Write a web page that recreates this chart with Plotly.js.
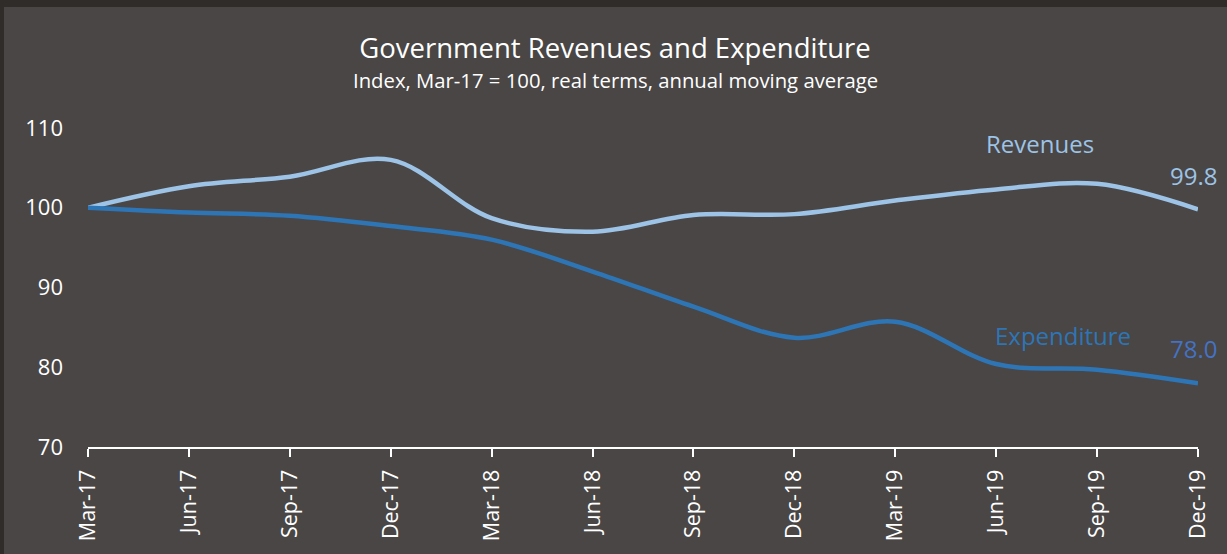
<!DOCTYPE html>
<html><head><meta charset="utf-8">
<script src="https://cdn.plot.ly/plotly-3.0.1.min.js"></script>
<style>html,body{margin:0;padding:0;background:#494645;}</style>
</head><body>
<div id="chart" style="width:1227px;height:554px;"></div>
<script>
const quarters = ["Mar-17","Jun-17","Sep-17","Dec-17","Mar-18","Jun-18","Sep-18","Dec-18","Mar-19","Jun-19","Sep-19","Dec-19"];
const revenues = [100, 102.7, 103.9, 106.0, 98.7, 97.0, 99.1, 99.2, 100.9, 102.3, 103.0, 99.8];
const expenditure = [100, 99.4, 99.0, 97.7, 96.0, 92.0, 87.6, 83.7, 85.7, 80.4, 79.7, 78.0];
const yTicks = [70, 80, 90, 100, 110];

const FONT = "Open Sans, Noto Sans, sans-serif";
const traces = [
  {x: quarters, y: revenues, type: "scatter", mode: "lines", name: "Revenues",
   line: {color: "#9dc3e6", width: 4.5, shape: "spline", smoothing: 1}},
  {x: quarters, y: expenditure, type: "scatter", mode: "lines", name: "Expenditure",
   line: {color: "#2e75b6", width: 4.5, shape: "spline", smoothing: 1}}
];
const last = quarters.length - 1;
const layout = {
  width: 1227, height: 554,
  paper_bgcolor: "#494645", plot_bgcolor: "rgba(0,0,0,0)",
  margin: {l: 88, r: 29, t: 128, b: 107},
  showlegend: false,
  font: {family: FONT, color: "#ffffff"},
  title: {text: "Government Revenues and Expenditure", font: {family: FONT, size: 27.5, color: "#ffffff"},
          x: 615/1227, xanchor: "center", y: 1 - 48/554, yanchor: "middle", xref: "container"},
  xaxis: {type: "category", range: [0, last], showgrid: false, zeroline: false,
          showline: true, linecolor: "#ffffff", linewidth: 2,
          ticks: "outside", ticklen: 8, tickwidth: 2, tickcolor: "#ffffff", ticklabelstandoff: 4,
          tickangle: -90, tickfont: {family: FONT, size: 21.5, color: "#ffffff"}},
  yaxis: {range: [70, 110], tickvals: yTicks, showgrid: false, zeroline: false, showline: false,
          ticks: "", ticklabelstandoff: 24, tickfont: {family: FONT, size: 22, color: "#ffffff"}},
  annotations: [
    {text: "Index, Mar-17 = 100, real terms, annual moving average", xref: "paper", yref: "paper",
     x: (615-88)/1110, y: 1 + (128-80)/319, xanchor: "center", yanchor: "middle", showarrow: false,
     font: {family: FONT, size: 20.3, color: "#ffffff"}},
    {text: "Revenues", xref: "x", yref: "y", x: 9.43, y: revenues[last] + 8.3, showarrow: false,
     xanchor: "center", yanchor: "middle", font: {family: FONT, size: 24, color: "#9dc3e6"}},
    {text: revenues[last].toFixed(1), xref: "x", yref: "y", x: 10.96, y: revenues[last] + 4.3, showarrow: false,
     xanchor: "center", yanchor: "middle", font: {family: FONT, size: 24, color: "#9dc3e6"}},
    {text: "Expenditure", xref: "x", yref: "y", x: 9.66, y: expenditure[last] + 6.0, showarrow: false,
     xanchor: "center", yanchor: "middle", font: {family: FONT, size: 24, color: "#2e75b6"}},
    {text: expenditure[last].toFixed(1), xref: "x", yref: "y", x: 10.96, y: expenditure[last] + 4.4, showarrow: false,
     xanchor: "center", yanchor: "middle", font: {family: FONT, size: 24, color: "#4472c4"}}
  ],
  shapes: [
    {type: "rect", xref: "paper", yref: "paper", x0: -88/1110, x1: 1 + 29/1110, y0: 1 + 121/319, y1: 1 + 128/319,
     fillcolor: "#2f2c2a", line: {width: 0}, layer: "below"},
    {type: "rect", xref: "paper", yref: "paper", x0: -88/1110, x1: -84/1110, y0: -107/319, y1: 1 + 128/319,
     fillcolor: "#2f2c2a", line: {width: 0}, layer: "below"}
  ]
};
Plotly.newPlot("chart", traces, layout, {displayModeBar: false, staticPlot: true});
</script>
</body></html>
